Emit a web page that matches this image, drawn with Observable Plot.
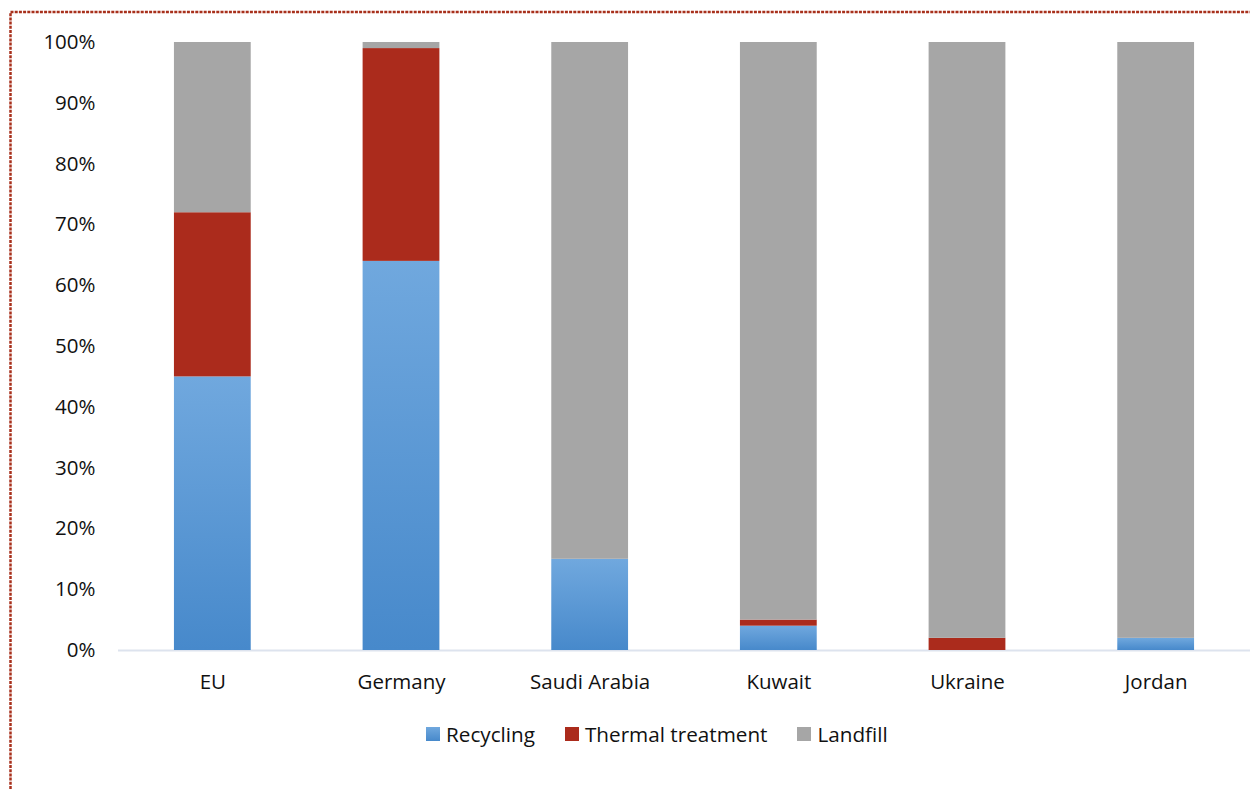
<!DOCTYPE html>
<html>
<head>
<meta charset="utf-8">
<script src="https://cdn.jsdelivr.net/npm/d3@7"></script>
<script src="https://cdn.jsdelivr.net/npm/@observablehq/plot@0.6"></script>
<style>
  html, body { margin: 0; padding: 0; background: #fff; }
  #wrap { position: relative; width: 1250px; height: 789px; overflow: hidden; font-family: "Open Sans", sans-serif; }
  #frame { position: absolute; left: 0; top: 0; pointer-events: none; }
  #legend { position: absolute; top: 720px; left: 426px; display: flex; align-items: center; font-size: 20.7px; color: #111; white-space: nowrap; }
  #legend .item { display: flex; align-items: center; margin-right: 30px; }
  #legend .sw { width: 14px; height: 14px; margin-right: 6px; }
</style>
</head>
<body>
<div id="wrap">
  <div id="chart"></div>
  <div id="legend"></div>
  <svg id="frame" width="1250" height="789">
    <path d="M10.5,789 V12 H1250" fill="none" stroke="#a8301c" stroke-width="2.5" stroke-dasharray="3 1.2"/>
  </svg>
</div>
<script>
// Share of municipal waste by treatment route (%)
const countries = ["EU", "Germany", "Saudi Arabia", "Kuwait", "Ukraine", "Jordan"];
const methods = ["Recycling", "Thermal treatment", "Landfill"];
const recycling = [45, 64, 15, 4, 0, 2];
const thermal   = [27, 35, 0, 1, 2, 0];
const landfill  = [28, 1, 85, 95, 98, 98];
const colors = ["url(#blueGrad)", "#ab2b1c", "#a6a6a6"];
const swatchColors = ["linear-gradient(#70a8de, #4789cb)", "#ab2b1c", "#a6a6a6"];
const yTicks = [0, 10, 20, 30, 40, 50, 60, 70, 80, 90, 100];

const series = [recycling, thermal, landfill];
const rows = [];
countries.forEach((c, i) => {
  methods.forEach((m, j) => rows.push({country: c, method: m, value: series[j][i]}));
});

const chart = Plot.plot({
  width: 1250,
  height: 700,
  marginTop: 42,
  marginBottom: 50,
  marginLeft: 118,
  marginRight: 0,
  style: {fontFamily: "Open Sans, sans-serif", fontSize: "20.5px", color: "#111", background: "transparent"},
  x: {domain: countries, round: false, paddingInner: 0.593, paddingOuter: 0.2965, label: null, tickSize: 0, tickPadding: 24},
  y: {domain: [0, 100], ticks: yTicks, tickFormat: d => d + "%", label: null, tickSize: 0, tickPadding: 23},
  color: {domain: methods, range: colors},
  marks: [
    Plot.ruleY([0], {stroke: "#dde3ee", strokeWidth: 2}),
    Plot.barY(rows, Plot.stackY({x: "country", y: "value", fill: "method", order: methods})),
  ]
});

// Gradient used by the recycling segments
const defs = d3.select(chart).insert("defs", ":first-child");
const grad = defs.append("linearGradient").attr("id", "blueGrad")
  .attr("x1", 0).attr("y1", 0).attr("x2", 0).attr("y2", 1);
grad.append("stop").attr("offset", "0%").attr("stop-color", "#70a8de");
grad.append("stop").attr("offset", "100%").attr("stop-color", "#4789cb");

document.getElementById("chart").appendChild(chart);

// Legend
const legend = d3.select("#legend");
methods.forEach((m, j) => {
  const item = legend.append("div").attr("class", "item");
  item.append("div").attr("class", "sw").style("background", swatchColors[j]);
  item.append("span").text(m);
});
</script>
</body>
</html>
